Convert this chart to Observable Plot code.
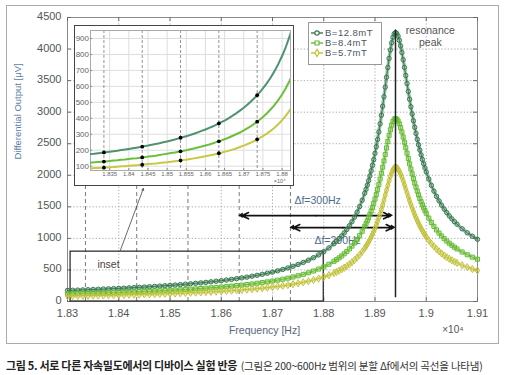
<!DOCTYPE html>
<html><head><meta charset="utf-8">
<script src="https://cdn.jsdelivr.net/npm/d3@7"></script>
<script src="https://cdn.jsdelivr.net/npm/@observablehq/plot@0.6"></script>
<style>
body{margin:0;background:#fff;font-family:"Liberation Sans",Arial,sans-serif;}
#wrap{position:relative;width:508px;height:375px;overflow:hidden;background:#fff;}
#frame{position:absolute;left:6px;top:5px;width:491px;height:337px;border:1px solid #aaa;}
#main{position:absolute;left:0;top:0;}
#inset{position:absolute;left:74px;top:25px;}
#inset svg{border:1px solid #444;display:block;background:#fff;}
#legend{position:absolute;left:308px;top:22px;width:74px;height:43px;box-sizing:border-box;border:1px solid #999;background:#fff;}
#legend .row{position:absolute;left:2px;height:10px;line-height:10px;font-size:9.5px;letter-spacing:0.5px;color:#4a5566;white-space:nowrap;}
#legend svg{position:absolute;left:0;top:0;}
#legend span{position:absolute;left:14px;top:0;}
#caption{position:absolute;left:6px;top:351px;white-space:nowrap;font-family:"Noto Sans CJK KR","Noto Sans",sans-serif;color:#222;}
#caption .b{font-size:11px;font-weight:700;letter-spacing:-0.3px;}
#caption .s{font-size:10.5px;letter-spacing:-0.2px;color:#333;}
</style></head>
<body>
<div id="wrap">
  <div id="frame"></div>
  <div id="main"></div>
  <div id="inset"></div>
  <div id="legend"></div>
  <div id="caption"><span class="b">그림 5. 서로 다른 자속밀도에서의 디바이스 실험 반응</span> <span class="s">(그림은 200~600Hz 범위의 분할 Δf에서의 곡선을 나타냄)</span></div>
</div>
<script>
// ---------- data (frequency in Hz, output in μV) ----------
const freqHz = [
18300,18310,18320,18330,18340,18350,18360,18370,18380,18390,18400,18410,18420,18430,18440,18450,18460,18470,18480,18490,
18500,18510,18520,18530,18540,18550,18560,18570,18580,18590,18600,18610,18620,18630,18640,18650,18660,18670,18680,18690,
18700,18710,18720,18730,18740,18750,18760,18770,18780,18790,18800,18810,18820,
18825,18830,18835,18840,18845,18850,18855,18860,18865,18870,18875,18880,
18882.5,18885,18887.5,18890,18892.5,18895,18897.5,18900,18902.5,18905,18907.5,18910,18912.5,18915,18917.5,18920,18922.5,18925,18927.5,18930,18932.5,18935,18937.5,
18940,
18942.5,18945,18947.5,18950,18952.5,18955,18957.5,18960,18962.5,18965,18967.5,18970,18972.5,18975,18977.5,18980,18982.5,18985,18987.5,18990,18992.5,18995,18997.5,
19000,19005,19010,19015,19020,19025,19030,19035,19040,19045,19050,19055,19060,
19070,19080,19090,19100];

const out128 = [
176,178,181,184,187,191,194,197,201,204,208,212,216,220,225,229,234,239,244,250,
255,261,267,274,281,288,295,303,312,321,330,340,350,362,374,386,400,415,431,448,
466,486,508,532,558,587,619,654,694,739,790,848,916,
954,995,1039,1088,1141,1200,1264,1336,1415,1504,1604,1717,
1778,1844,1915,1990,2071,2157,2249,2348,2454,2567,2687,2816,2952,3095,3244,3397,3553,3706,3852,3986,4099,4188,4243,
4262,
4247,4205,4138,4050,3946,3831,3708,3581,3454,3328,3205,3086,2972,2864,2760,2663,2570,2483,2400,2323,2250,2181,2115,
2054,1941,1840,1749,1667,1593,1526,1464,1408,1356,1309,1265,1225,
1152,1089,1034,985];

const out84 = [
122,124,126,128,130,133,135,137,140,142,145,148,150,153,156,160,163,166,170,174,
178,182,186,191,195,200,206,211,217,223,230,236,244,252,260,269,278,289,300,311,
324,338,353,370,388,408,430,455,483,514,549,590,637,
663,691,722,756,793,833,878,927,982,1044,1113,1190,
1233,1278,1326,1378,1433,1492,1555,1623,1695,1772,1853,1940,2032,2128,2228,2330,2433,2535,2632,2720,2794,2852,2887,
2900,
2890,2861,2816,2756,2685,2606,2523,2437,2350,2265,2181,2100,2023,1949,1878,1812,1749,1689,1633,1581,1531,1484,1439,
1398,1321,1252,1190,1134,1084,1038,996,958,923,891,861,833,
784,741,703,670];

const out57 = [
86,88,89,90,92,94,95,97,99,100,102,104,106,108,110,113,115,117,120,123,
125,128,131,134,138,141,145,149,153,157,162,167,172,178,183,190,196,204,211,220,
229,239,249,261,274,288,304,321,341,363,388,417,450,
469,489,511,535,561,590,622,657,696,740,789,845,
876,908,943,980,1020,1063,1109,1158,1211,1267,1328,1392,1460,1532,1607,1685,1763,1840,1915,1983,2042,2087,2115,
2125,
2118,2097,2063,2019,1967,1910,1849,1786,1722,1659,1598,1539,1482,1428,1376,1328,1281,1238,1197,1158,1122,1087,1055,
1024,968,917,872,831,794,761,730,702,676,653,631,611,
574,543,515,491];

const seriesNames = ["B=12.8mT","B=8.4mT","B=5.7mT"];
const seriesColors = ["#37794f","#66bb35","#c2c23a"];
const insetColors = ["#4f9272","#6cbf3d","#c8c844"];
const seriesSymbols = ["circle","square","diamond"];

const xTicks = [18300,18400,18500,18600,18700,18800,18900,19000,19100];
const yTicks = [0,500,1000,1500,2000,2500,3000,3500,4000,4500];
const insetXTicks = [18350,18400,18450,18500,18550,18600,18650,18700,18750,18800];
const insetYTicks = [100,200,300,400,500,600,700,800,900];

// Δf markers (f0 − 600 … f0 − 200 Hz) and their points on the inset curves
const deltaF = [18335,18435,18535,18635,18735];
const dots128 = [186,222,278,368,545];
const dots84  = [129,155,193,256,379];
const dots57  = [91,109,136,181,268];

const peakF = 18940;
const peakSpan = [60, 4300];
const arrowLeft = [18640, 18740];
const arrowRight = [18930, 18935];
const arrowLevel = [1360, 1170];
const insetBoxF = [18306, 18800];
const insetBoxV = [0, 790];

// ---------- build ----------
const fmt = d => String(+(d/1e4).toFixed(4));
const seriesVals = [out128, out84, out57];
const rows = seriesVals.map((vals,k) => freqHz.map((f,i) => ({f, v: vals[i], k})).filter(d => d.v != null));
const arrows = [], arrowHeads = [];
arrowLeft.forEach((L,i) => {
  const R = arrowRight[i], y = arrowLevel[i], m = (L + R) / 2;
  arrows.push({xm:m, xe:L, y}, {xm:m, xe:R, y});
  arrowHeads.push({x:L, y, rot:-90, dx:3}, {x:R, y, rot:90, dx:-3});
});

const W = 508, H = 345, mL = 67, mR = 31, mT = 17, mB = 44;
const pW = W - mL - mR, pH = H - mT - mB;
const tickCol = "#6a6a6a";
const textFont = "Liberation Sans, Arial, sans-serif";

const seriesMarks = [];
rows.forEach((r,k) => {
  seriesMarks.push(
    Plot.line(r, {x:"f", y:"v", stroke: seriesColors[k], strokeWidth: 3.6, strokeOpacity: 0.45}),
    Plot.line(r, {x:"f", y:"v", stroke: seriesColors[k], strokeWidth: 1}),
    Plot.dot(r, {x:"f", y:"v", symbol: seriesSymbols[k], r: k === 1 ? 2.3 : 2.2, stroke: seriesColors[k], fill: "none", strokeWidth: 1})
  );
});

const main = Plot.plot({
  width: W, height: H, marginLeft: mL, marginRight: mR, marginTop: mT, marginBottom: mB,
  style: {background: "transparent", fontFamily: textFont, fontSize: "11px", color: "#555", overflow: "visible"},
  x: {domain: [18300, 19100]},
  y: {domain: [0, 4500]},
  marks: [
    Plot.gridX(xTicks, {stroke: "#a8a8a8", strokeOpacity: 1, strokeDasharray: "1.2,2"}),
    Plot.gridY(yTicks, {stroke: "#a8a8a8", strokeOpacity: 1, strokeDasharray: "1.2,2"}),
    Plot.ruleX(deltaF, {y1: 0, y2: 1900, stroke: "#7a7a7a", strokeDasharray: "4,3"}),
    Plot.frame({stroke: "#8a8a8a"}),
    Plot.tickY(yTicks, {y: d => d, insetRight: pW - 4, stroke: tickCol}),
    Plot.tickY(yTicks, {y: d => d, insetLeft: pW - 4, stroke: tickCol}),
    Plot.tickX(xTicks, {x: d => d, insetBottom: pH - 4, stroke: tickCol}),
    Plot.tickX(xTicks, {x: d => d, insetTop: pH - 4, stroke: tickCol}),
    Plot.axisX(xTicks, {tickSize: 0, tickPadding: 7.5, tickFormat: fmt, label: null, fill: "#555", fontSize: 11, fontFamily: "Liberation Sans Narrow, Liberation Sans, Arial", letterSpacing: -0.4}),
    Plot.axisY(yTicks, {tickSize: 0, tickPadding: 6, tickFormat: d => String(d), label: null, fill: "#555", fontSize: 11, letterSpacing: -0.3, dy: -1}),
    Plot.text(["Differential Output [μV]"], {text: d => d, frameAnchor: "left", rotate: -90, dx: -50, fill: "#5b7ea3", fontSize: 9.5, letterSpacing: -0.2}),
    Plot.text(["Frequency [Hz]"], {text: d => d, frameAnchor: "bottom", dx: -8, dy: 32, fill: "#56677d", fontSize: 10.5}),
    Plot.text(["×10⁴"], {text: d => d, frameAnchor: "bottom-right", dx: -14, dy: 31, fill: "#555", fontSize: 10}),
    Plot.rect([0], {x1: insetBoxF[0], x2: insetBoxF[1], y1: insetBoxV[0], y2: insetBoxV[1], stroke: "#222", fill: "none", strokeWidth: 1.2}),
    Plot.text(["inset"], {text: d => d, x: 18380, y: 590, fill: "#444", fontSize: 10.5}),
    Plot.arrow([0], {x1: 18403, y1: 808, x2: 18448, y2: 1790, stroke: "#444", strokeWidth: 0.8, headLength: 4}),
    Plot.text(["Δf=300Hz"], {text: d => d, x: 18788, y: 1600, fill: "#4f6b8c", fontSize: 10.5}),
    Plot.text(["Δf=200Hz"], {text: d => d, x: 18827, y: 967, fill: "#4f6b8c", fontSize: 10.5}),
    Plot.text(["resonance\npeak"], {text: d => d, x: 19008, y: 4208, fill: "#555", fontSize: 10.5, lineHeight: 1.2}),
    Plot.arrow(arrows, {x1: "xm", y1: "y", x2: "xe", y2: "y", stroke: "#111", strokeWidth: 1.6, headLength: 7, headAngle: 50}),
    Plot.dot(arrowHeads, {x: "x", y: "y", rotate: "rot", dx: "dx", symbol: "triangle2", r: 2.6, fill: "#111"}),
    ...seriesMarks,
    Plot.ruleX([peakF], {y1: peakSpan[0], y2: peakSpan[1], stroke: "#222", strokeWidth: 1.5})
  ]
});
document.getElementById("main").appendChild(main);

// ---------- inset ----------
const iW = 218, iH = 159, iL = 15, iR = 3, iT = 4, iB = 15;
const ipW = iW - iL - iR, ipH = iH - iT - iB;
const dotRows = [];
[dots128, dots84, dots57].forEach((arr,k) => arr.forEach((v,i) => dotRows.push({f: deltaF[i], v})));
const insetMarks = [];
rows.forEach((r,k) => insetMarks.push(Plot.line(r.filter(d => d.f <= 18830), {x:"f", y:"v", stroke: insetColors[k], strokeWidth: 2, clip: true})));

const inset = Plot.plot({
  width: iW, height: iH, marginLeft: iL, marginRight: iR, marginTop: iT, marginBottom: iB,
  style: {background: "#fff", fontFamily: textFont, color: "#666", overflow: "visible"},
  x: {domain: [18300, 18822]},
  y: {domain: [73, 950]},
  marks: [
    Plot.gridX(insetXTicks, {stroke: "#dedede", strokeOpacity: 1}),
    Plot.gridY(insetYTicks, {stroke: "#dedede", strokeOpacity: 1}),
    Plot.ruleX(deltaF, {stroke: "#7a7a7a", strokeDasharray: "3,2", strokeWidth: 0.8}),
    Plot.frame({stroke: "#aaa"}),
    Plot.tickY(insetYTicks, {y: d => d, insetRight: ipW - 2, stroke: "#888"}),
    Plot.tickX(insetXTicks, {x: d => d, insetTop: ipH - 2, stroke: "#888"}),
    Plot.axisX(insetXTicks, {tickSize: 0, tickPadding: 1.5, tickFormat: fmt, label: null, fill: "#666", fontSize: 6, fontFamily: "Liberation Sans Narrow, Liberation Sans, Arial", letterSpacing: -0.3}),
    Plot.axisY(insetYTicks, {tickSize: 0, tickPadding: 1.5, label: null, fill: "#666", fontSize: 8, letterSpacing: -0.2}),
    Plot.text(["×10⁴"], {text: d => d, frameAnchor: "bottom-right", dx: -5, dy: 12.5, fill: "#666", fontSize: 5.5}),
    ...insetMarks,
    Plot.dot(dotRows, {x: "f", y: "v", r: 1.9, fill: "#000"})
  ]
});
document.getElementById("inset").appendChild(inset);

// ---------- legend ----------
const legend = document.getElementById("legend");
seriesNames.forEach((name,k) => {
  const row = document.createElement("div");
  row.className = "row";
  row.style.top = (5 + k * 10) + "px";
  const sym = d3.symbol().type(k === 0 ? d3.symbolCircle : k === 1 ? d3.symbolSquare : d3.symbolDiamond).size(k === 1 ? 16 : 15)();
  row.innerHTML = `<svg width="13" height="10"><line x1="0" y1="5" x2="12" y2="5" stroke="${seriesColors[k]}" stroke-width="1.4"/><path d="${sym}" transform="translate(6,5)" fill="#fff" stroke="${seriesColors[k]}" stroke-width="1.2"/></svg><span>${name}</span>`;
  legend.appendChild(row);
});
</script>
</body></html>
